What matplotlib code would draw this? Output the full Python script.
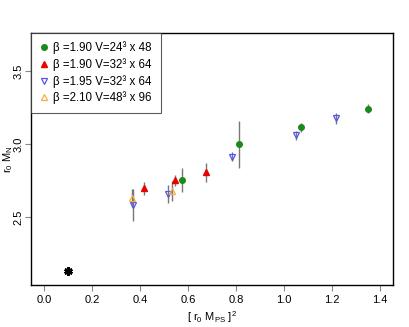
import matplotlib
matplotlib.use("Agg")
import matplotlib.pyplot as plt

plt.rcParams['font.family'] = ['Liberation Sans', 'DejaVu Sans']
plt.rcParams['mathtext.fontset'] = 'custom'
plt.rcParams['mathtext.rm'] = 'Liberation Sans'
plt.rcParams['mathtext.it'] = 'Liberation Sans'

# Series data: x = (r0 M_PS)^2, y = r0 M_N, err
g_x = [0.575, 0.811, 1.073, 1.350]
g_y = [2.755, 3.000, 3.118, 3.244]
g_e = [0.080, 0.160, 0.032, 0.030]

r_x = [0.417, 0.545, 0.673]
r_y = [2.699, 2.753, 2.808]
r_e = [0.046, 0.040, 0.068]

b_x = [0.372, 0.515, 0.782, 1.052, 1.216]
b_y = [2.584, 2.660, 2.915, 3.062, 3.178]
b_e = [0.107, 0.065, 0.030, 0.030, 0.035]

o_x = [0.366, 0.534]
o_y = [2.630, 2.680]
o_e = [0.062, 0.066]

star_x = [0.100]
star_y = [2.132]

labels = ["β =1.90 V=24³ x 48",
          "β =1.90 V=32³ x 64",
          "β =1.95 V=32³ x 64",
          "β =2.10 V=48³ x 96"]

xticks = [0.0, 0.2, 0.4, 0.6, 0.8, 1.0, 1.2, 1.4]
yticks = [2.5, 3.0, 3.5]

fig = plt.figure(figsize=(4.09, 3.27), dpi=100)
ax = fig.add_axes([31/409, 1-285/327, (393-31)/409, (285-33)/327])

ecol = '#777777'
for xs, ys, es in [(g_x, g_y, g_e), (r_x, r_y, r_e), (b_x, b_y, b_e), (o_x, o_y, o_e)]:
    ax.errorbar(xs, ys, yerr=es, fmt='none', ecolor=ecol, elinewidth=1.0, capsize=0, zorder=2)

h1, = ax.plot(g_x, g_y, 'o', color='#1a8a1a', ms=4, ls='none', zorder=3)
h2, = ax.plot(r_x, r_y, '^', color='#ee0000', ms=5, ls='none', zorder=3)
h3, = ax.plot(b_x, b_y, 'v', mfc='none', mec='#5555ee', mew=0.9, ms=5, ls='none', zorder=3)
h4, = ax.plot(o_x, o_y, '^', mfc='none', mec='#f5b041', mew=0.9, ms=5, ls='none', zorder=3)
ax.plot(star_x, star_y, marker=(6, 2, 0), color='black', ms=6, mew=2, ls='none', zorder=3)
ax.plot(star_x, star_y, 'o', color='black', ms=3, ls='none', zorder=3)

ax.set_xlim(-0.056, 1.456)
ax.set_ylim(2.036, 3.764)
ax.set_xticks(xticks)
ax.set_xticklabels([f"{v:.1f}" for v in xticks], fontsize=8)
ax.set_yticks(yticks)
ax.set_yticklabels([f"{v:.1f}" for v in yticks], fontsize=8, rotation=90, va='center')
ax.tick_params(direction='out', length=4, width=0.8, color='#888888', pad=3)
ax.tick_params(axis='y', pad=1.5)
for s in ax.spines.values():
    s.set_linewidth(1.0)

ax.set_xlabel(r"[ r$_0$ M$_{\mathrm{PS}}$ ]$^2$", fontsize=8, labelpad=3)
ax.set_ylabel(r"r$_0$ M$_\mathrm{N}$", fontsize=8)
ax.yaxis.set_label_coords(-0.045, 0.5)

leg = ax.legend([h1, h2, h3, h4], labels, loc='upper left', fontsize=8.3,
                frameon=True, fancybox=False, edgecolor='#333333', borderaxespad=0,
                handlelength=0.8, handletextpad=0.4, labelspacing=0.33, borderpad=0.75)
leg.get_frame().set_linewidth(0.8)

fig.savefig("out.png", dpi=100)
